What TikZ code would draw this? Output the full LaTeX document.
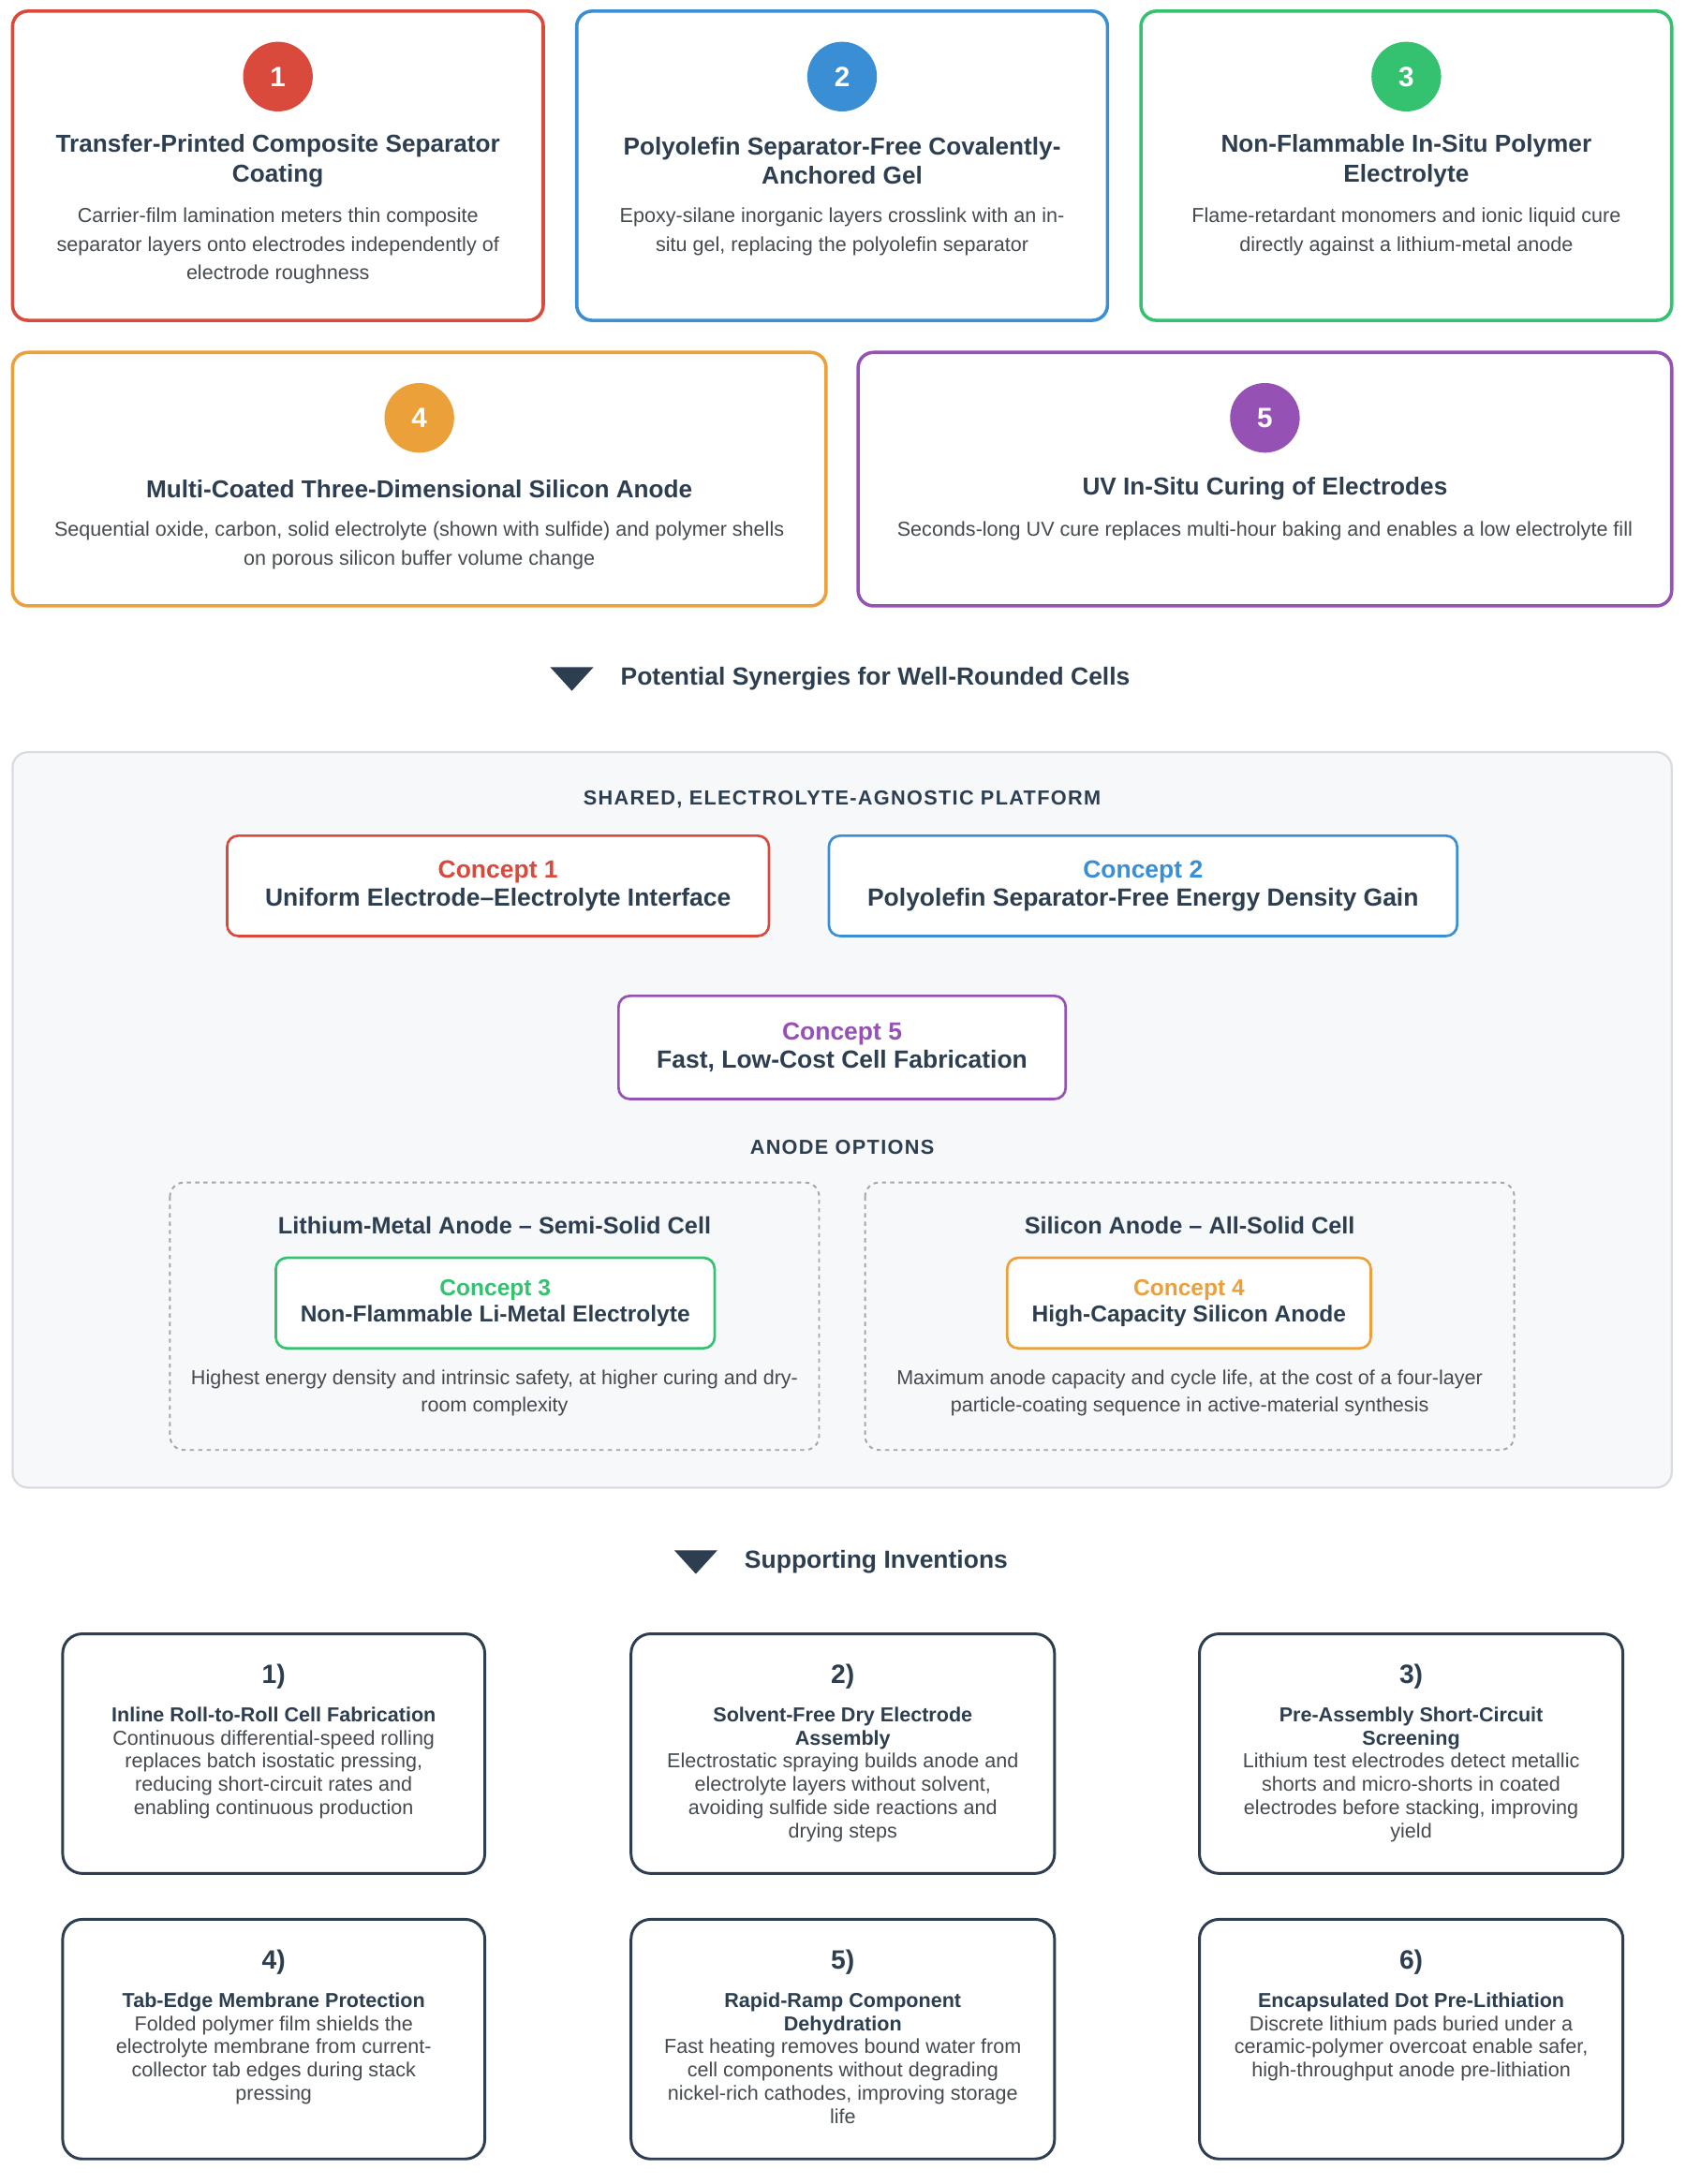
\documentclass[tikz,border=0pt]{standalone}
\usepackage{fontspec}
\setmainfont{Liberation Sans}
\usetikzlibrary{positioning}
\definecolor{cred}{HTML}{D9493C}
\definecolor{cblue}{HTML}{3A8ED3}
\definecolor{cgreen}{HTML}{34C170}
\definecolor{corange}{HTML}{EBA03A}
\definecolor{cpurple}{HTML}{9551B3}
\definecolor{ink}{HTML}{2C3E50}
\definecolor{grey}{HTML}{444A50}
\definecolor{panel}{HTML}{F7F8FA}
\definecolor{panelline}{HTML}{D8DCE0}
\tikzset{
  card/.style={draw=#1, line width=2.4pt, rounded corners=11pt, fill=white},
  badge/.style={circle, fill=#1, minimum size=50pt, inner sep=0pt, text=white, font=\fontsize{20}{20}\bfseries},
  ttl/.style={align=center, text=ink, font=\fontsize{17.6}{21}\bfseries},
  dsc/.style={align=center, text=grey, font=\fontsize{14.5}{20.5}\selectfont},
  concept/.style={draw=#1, line width=1.8pt, rounded corners=8pt, fill=white},
  ctext/.style={align=center, text=ink, font=\fontsize{17.8}{20}\bfseries},
  head/.style={text=ink, font=\fontsize{17.8}{18}\bfseries},
  caps/.style={text=ink, font=\fontsize{14.6}{16}\bfseries\addfontfeature{LetterSpace=6}},
  dscsm/.style={align=center, text=grey, font=\fontsize{14.5}{16.7}\selectfont},
  inv/.style={draw=ink, line width=2pt, rounded corners=14pt, fill=white},
}
\begin{document}
\begin{tikzpicture}[x=1pt,y=-1pt]
\useasboundingbox (0,0) rectangle (1210,1568);
% top row of approaches
\draw[card=cred] (9,8) rectangle (390,230);
\draw[card=cblue] (414,8) rectangle (795,230);
\draw[card=cgreen] (819,8) rectangle (1200,230);
\node[badge=cred] (b1) at (199.5,55) {1};
\node[badge=cblue] (b2) at (604.5,55) {2};
\node[badge=cgreen] (b3) at (1009.5,55) {3};
\node[ttl] (t1) at (199.5,115.5) {Transfer-Printed Composite Separator\\Coating};
\node[ttl] (t2) at (604.5,115.5) {Polyolefin Separator-Free Covalently-\\Anchored Gel};
\node[ttl] (t3) at (1009.5,115.5) {Non-Flammable In-Situ Polymer\\Electrolyte};
\node[dsc] (d1) at (199.5,176.5) {Carrier-film lamination meters thin composite\\separator layers onto electrodes independently of\\electrode roughness};
\node[dsc] (d2) at (604.5,166.5) {Epoxy-silane inorganic layers crosslink with an in-\\situ gel, replacing the polyolefin separator};
\node[dsc] (d3) at (1009.5,166.5) {Flame-retardant monomers and ionic liquid cure\\directly against a lithium-metal anode};
% second row
\draw[card=corange] (9,253) rectangle (593,435);
\draw[card=cpurple] (616,253) rectangle (1200,435);
\node[badge=corange] (b4) at (301,300) {4};
\node[badge=cpurple] (b5) at (908,300) {5};
\node[ttl] (t4) at (301,351) {Multi-Coated Three-Dimensional Silicon Anode};
\node[ttl] (t5) at (908,351) {UV In-Situ Curing of Electrodes};
\node[dsc] (d4) at (301,391.5) {Sequential oxide, carbon, solid electrolyte (shown with sulfide) and polymer shells\\on porous silicon buffer volume change};
\node[dsc] (d5) at (908,381.5) {Seconds-long UV cure replaces multi-hour baking and enables a low electrolyte fill};
% synergies
\fill[ink] (395,479) -- (426,479) -- (410.5,496) -- cycle;
\node[head, anchor=west] (syn) at (442,487) {Potential Synergies for Well-Rounded Cells};
\draw[panelline, fill=panel, line width=1.5pt, rounded corners=11pt] (9,540) rectangle (1200,1068);
\node[caps] (plat) at (604.5,574) {SHARED, ELECTROLYTE-AGNOSTIC PLATFORM};
\draw[concept=cred] (163,600) rectangle (552,672);
\draw[concept=cblue] (595,600) rectangle (1046,672);
\draw[concept=cpurple] (444,715) rectangle (765,789);
\node[ctext] (c1) at (357.5,636) {\textcolor{cred}{Concept 1}\\Uniform Electrode–Electrolyte Interface};
\node[ctext] (c2) at (820.5,636) {\textcolor{cblue}{Concept 2}\\Polyolefin Separator-Free Energy Density Gain};
\node[ctext] (c5) at (604.5,752) {\textcolor{cpurple}{Concept 5}\\Fast, Low-Cost Cell Fabrication};
\node[caps] (anode) at (604.5,824) {ANODE OPTIONS};
\draw[draw=black!35, dashed, line width=1.3pt, rounded corners=10pt, fill=panel] (122,849) rectangle (588,1041);
\draw[draw=black!35, dashed, line width=1.3pt, rounded corners=10pt, fill=panel] (621,849) rectangle (1087,1041);
\node[head, font=\fontsize{17}{18}\bfseries] (li) at (355,880) {Lithium-Metal Anode – Semi-Solid Cell};
\node[head, font=\fontsize{17}{18}\bfseries] (si) at (854,880) {Silicon Anode – All-Solid Cell};
\draw[concept=cgreen] (198,903) rectangle (513,968);
\draw[concept=corange] (723,903) rectangle (984,968);
\node[ctext, font=\fontsize{16.5}{19}\bfseries] (c3) at (355.5,935.5) {\textcolor{cgreen}{Concept 3}\\Non-Flammable Li-Metal Electrolyte};
\node[ctext, font=\fontsize{16.5}{19}\bfseries] (c4) at (853.5,935.5) {\textcolor{corange}{Concept 4}\\High-Capacity Silicon Anode};
\node[dsc, font=\fontsize{14.5}{19.5}\selectfont] (dli) at (355,1000) {Highest energy density and intrinsic safety, at higher curing and dry-\\room complexity};
\node[dsc, font=\fontsize{14.5}{19.5}\selectfont] (dsi) at (854,1000) {Maximum anode capacity and cycle life, at the cost of a four-layer\\particle-coating sequence in active-material synthesis};
% supporting inventions
\fill[ink] (484,1113) -- (515,1113) -- (499.5,1130) -- cycle;
\node[head, anchor=west] (sup) at (531,1121) {Supporting Inventions};
\draw[inv] (45,1173) rectangle (348,1345);
\draw[inv] (453,1173) rectangle (757,1345);
\draw[inv] (861,1173) rectangle (1165,1345);
\draw[inv] (45,1378) rectangle (348,1550);
\draw[inv] (453,1378) rectangle (757,1550);
\draw[inv] (861,1378) rectangle (1165,1550);
\node[text=ink, font=\fontsize{19}{20}\bfseries] (n1) at (196.5,1204) {1)};
\node[text=ink, font=\fontsize{19}{20}\bfseries] (n2) at (605,1204) {2)};
\node[text=ink, font=\fontsize{19}{20}\bfseries] (n3) at (1013,1204) {3)};
\node[text=ink, font=\fontsize{19}{20}\bfseries] (n4) at (196.5,1409) {4)};
\node[text=ink, font=\fontsize{19}{20}\bfseries] (n5) at (605,1409) {5)};
\node[text=ink, font=\fontsize{19}{20}\bfseries] (n6) at (1013,1409) {6)};
\node[dscsm, anchor=north] (i1) at (196.5,1222) {\textbf{\textcolor{ink}{Inline Roll-to-Roll Cell Fabrication}}\\Continuous differential-speed rolling\\replaces batch isostatic pressing,\\reducing short-circuit rates and\\enabling continuous production};
\node[dscsm, anchor=north] (i2) at (605,1222) {\textbf{\textcolor{ink}{Solvent-Free Dry Electrode}}\\\textbf{\textcolor{ink}{Assembly}}\\Electrostatic spraying builds anode and\\electrolyte layers without solvent,\\avoiding sulfide side reactions and\\drying steps};
\node[dscsm, anchor=north] (i3) at (1013,1222) {\textbf{\textcolor{ink}{Pre-Assembly Short-Circuit}}\\\textbf{\textcolor{ink}{Screening}}\\Lithium test electrodes detect metallic\\shorts and micro-shorts in coated\\electrodes before stacking, improving\\yield};
\node[dscsm, anchor=north] (i4) at (196.5,1427) {\textbf{\textcolor{ink}{Tab-Edge Membrane Protection}}\\Folded polymer film shields the\\electrolyte membrane from current-\\collector tab edges during stack\\pressing};
\node[dscsm, anchor=north] (i5) at (605,1427) {\textbf{\textcolor{ink}{Rapid-Ramp Component}}\\\textbf{\textcolor{ink}{Dehydration}}\\Fast heating removes bound water from\\cell components without degrading\\nickel-rich cathodes, improving storage\\life};
\node[dscsm, anchor=north] (i6) at (1013,1427) {\textbf{\textcolor{ink}{Encapsulated Dot Pre-Lithiation}}\\Discrete lithium pads buried under a\\ceramic-polymer overcoat enable safer,\\high-throughput anode pre-lithiation};
\end{tikzpicture}
\end{document}
